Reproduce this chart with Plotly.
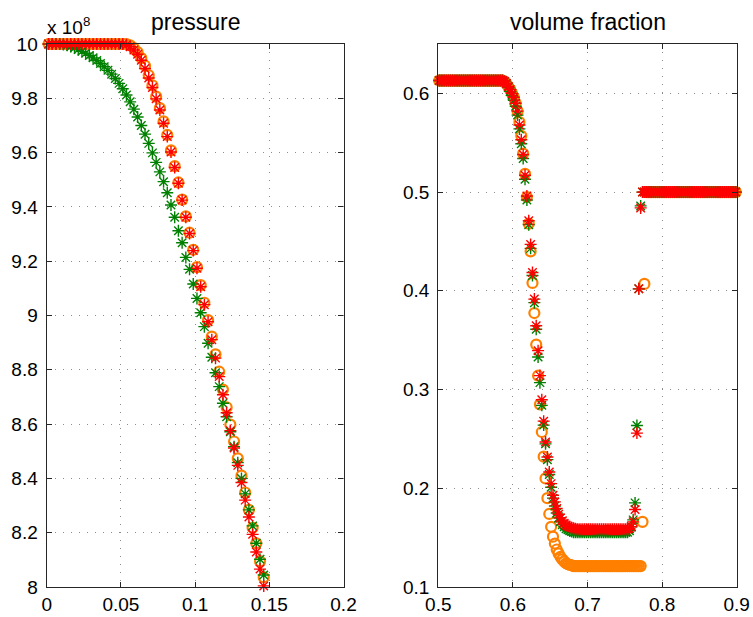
import plotly.graph_objects as go

# ---------------- data ----------------
# cell-centre mesh (400 cells on [0,1]) : x_i = 0.00125 + 0.0025*i
left_idx = list(range(0, 59))
right_idx = list(range(200, 360))

# pressure (units of 1e8)
p_green = [10.0, 10.0, 10.0, 10.0, 9.998, 9.995, 9.991, 9.986, 9.98, 9.973,
           9.966, 9.958, 9.949, 9.939, 9.928, 9.916, 9.903, 9.889, 9.873, 9.855,
           9.835, 9.812, 9.787, 9.76, 9.731, 9.7, 9.668, 9.634, 9.599, 9.564,
           9.529, 9.493, 9.452, 9.407, 9.362, 9.312, 9.268, 9.214, 9.170, 9.116,
           9.063, 9.010, 8.959, 8.898, 8.846, 8.789, 8.738, 8.677, 8.627, 8.572,
           8.517, 8.458, 8.400, 8.343, 8.284, 8.225, 8.161, 8.102, 8.044]
p_red = [10.0, 10.0, 10.0, 10.0, 10.0, 10.0, 10.0, 10.0, 10.0, 10.0,
         10.0, 10.0, 10.0, 10.0, 10.0, 10.0, 10.0, 10.0, 10.0, 10.0,
         10.0, 9.997, 9.99, 9.978, 9.962, 9.94, 9.91, 9.875, 9.84, 9.798,
         9.757, 9.708, 9.659, 9.602, 9.545, 9.487, 9.425, 9.362, 9.302, 9.239,
         9.174, 9.106, 9.04, 8.977, 8.911, 8.843, 8.775, 8.708, 8.642, 8.576,
         8.512, 8.448, 8.385, 8.320, 8.258, 8.194, 8.129, 8.066, 8.004]
p_orange = [10.0, 10.0, 10.0, 10.0, 10.0, 10.0, 10.0, 10.0, 10.0, 10.0,
            10.0, 10.0, 10.0, 10.0, 10.0, 10.0, 10.0, 10.0, 10.0, 10.0,
            10.0, 10.0, 9.995, 9.985, 9.97, 9.948, 9.92, 9.885, 9.848, 9.806,
            9.764, 9.715, 9.665, 9.608, 9.55, 9.49, 9.427, 9.365, 9.305, 9.242,
            9.178, 9.112, 9.047, 8.983, 8.922, 8.857, 8.793, 8.727, 8.662, 8.598,
            8.536, 8.474, 8.41, 8.348, 8.284, 8.218, 8.161, 8.095, 8.036]

# volume fraction, cells 200..359
vf_green = [0.613, 0.613, 0.613, 0.613, 0.613, 0.613, 0.613, 0.613, 0.613, 0.613,
            0.613, 0.613, 0.613, 0.613, 0.613, 0.613, 0.613, 0.613, 0.613, 0.613,
            0.613, 0.613, 0.613, 0.613, 0.613, 0.613, 0.613, 0.613, 0.613, 0.613,
            0.613, 0.613, 0.613, 0.613, 0.613, 0.612, 0.610, 0.606, 0.602, 0.598,
            0.593, 0.587, 0.578, 0.564, 0.549, 0.534, 0.513, 0.492, 0.467, 0.443,
            0.4155, 0.388, 0.361, 0.333, 0.307, 0.284, 0.264, 0.245, 0.229, 0.214,
            0.201, 0.190, 0.182, 0.175, 0.170, 0.166, 0.163, 0.161, 0.159, 0.158,
            0.157, 0.1562, 0.1555, 0.1555, 0.1555, 0.1555, 0.1555, 0.1555, 0.1555, 0.1555,
            0.1555, 0.1555, 0.1555, 0.1555, 0.1555, 0.1555, 0.1555, 0.1555, 0.1555, 0.1555,
            0.1555, 0.1555, 0.1555, 0.1555, 0.1555, 0.1555, 0.1555, 0.1555, 0.1555, 0.1555,
            0.1555, 0.1555, 0.157, 0.161, 0.168, 0.1852, 0.2636, 0.402, 0.486, 0.5,
            0.5, 0.5, 0.5, 0.5, 0.5, 0.5, 0.5, 0.5, 0.5, 0.5,
            0.5, 0.5, 0.5, 0.5, 0.5, 0.5, 0.5, 0.5, 0.5, 0.5,
            0.5, 0.5, 0.5, 0.5, 0.5, 0.5, 0.5, 0.5, 0.5, 0.5,
            0.5, 0.5, 0.5, 0.5, 0.5, 0.5, 0.5, 0.5, 0.5, 0.5,
            0.5, 0.5, 0.5, 0.5, 0.5, 0.5, 0.5, 0.5, 0.5, 0.5]
vf_red = [0.613, 0.613, 0.613, 0.613, 0.613, 0.613, 0.613, 0.613, 0.613, 0.613,
          0.613, 0.613, 0.613, 0.613, 0.613, 0.613, 0.613, 0.613, 0.613, 0.613,
          0.613, 0.613, 0.613, 0.613, 0.613, 0.613, 0.613, 0.613, 0.613, 0.613,
          0.613, 0.613, 0.613, 0.613, 0.613, 0.612, 0.610, 0.607, 0.604, 0.600,
          0.596, 0.590, 0.582, 0.568, 0.553, 0.538, 0.517, 0.496, 0.471, 0.447,
          0.4185, 0.3916, 0.3646, 0.3394, 0.3141, 0.2896, 0.2680, 0.2468, 0.2316, 0.2165,
          0.2047, 0.1929, 0.1862, 0.1795, 0.1737, 0.170, 0.167, 0.1645, 0.1628, 0.1615,
          0.1605, 0.160, 0.1595, 0.159, 0.1585, 0.1585, 0.1585, 0.1585, 0.1585, 0.1585,
          0.1585, 0.1585, 0.1585, 0.1585, 0.1585, 0.1585, 0.1585, 0.1585, 0.1585, 0.1585,
          0.1585, 0.1585, 0.1585, 0.1585, 0.1585, 0.1585, 0.1585, 0.1585, 0.1585, 0.1585,
          0.1585, 0.1585, 0.159, 0.161, 0.166, 0.1785, 0.2559, 0.402, 0.484, 0.5,
          0.5, 0.5, 0.5, 0.5, 0.5, 0.5, 0.5, 0.5, 0.5, 0.5,
          0.5, 0.5, 0.5, 0.5, 0.5, 0.5, 0.5, 0.5, 0.5, 0.5,
          0.5, 0.5, 0.5, 0.5, 0.5, 0.5, 0.5, 0.5, 0.5, 0.5,
          0.5, 0.5, 0.5, 0.5, 0.5, 0.5, 0.5, 0.5, 0.5, 0.5,
          0.5, 0.5, 0.5, 0.5, 0.5, 0.5, 0.5, 0.5, 0.5, 0.5]
vf_orange = [0.613, 0.613, 0.613, 0.613, 0.613, 0.613, 0.613, 0.613, 0.613, 0.613,
             0.613, 0.613, 0.613, 0.613, 0.613, 0.613, 0.613, 0.613, 0.613, 0.613,
             0.613, 0.613, 0.613, 0.613, 0.613, 0.613, 0.613, 0.613, 0.613, 0.613,
             0.613, 0.613, 0.613, 0.613, 0.613, 0.612, 0.610, 0.607, 0.604, 0.600,
             0.596, 0.590, 0.582, 0.571, 0.557, 0.539, 0.5185, 0.495, 0.468, 0.440,
             0.408, 0.3775, 0.3455, 0.314, 0.285, 0.257, 0.232, 0.210, 0.190, 0.174,
             0.161, 0.151, 0.144, 0.138, 0.134, 0.1305, 0.128, 0.126, 0.124, 0.123,
             0.1225, 0.122, 0.1212, 0.1212, 0.1212, 0.1212, 0.1212, 0.1212, 0.1212, 0.1212,
             0.1212, 0.1212, 0.1212, 0.1212, 0.1212, 0.1212, 0.1212, 0.1212, 0.1212, 0.1212,
             0.1212, 0.1212, 0.1212, 0.1212, 0.1212, 0.1212, 0.1212, 0.1212, 0.1212, 0.1212,
             0.1212, 0.1212, 0.1212, 0.1212, 0.1212, 0.1212, 0.1212, 0.1212, 0.1212, 0.166,
             0.407, 0.5, 0.5, 0.5, 0.5, 0.5, 0.5, 0.5, 0.5, 0.5,
             0.5, 0.5, 0.5, 0.5, 0.5, 0.5, 0.5, 0.5, 0.5, 0.5,
             0.5, 0.5, 0.5, 0.5, 0.5, 0.5, 0.5, 0.5, 0.5, 0.5,
             0.5, 0.5, 0.5, 0.5, 0.5, 0.5, 0.5, 0.5, 0.5, 0.5,
             0.5, 0.5, 0.5, 0.5, 0.5, 0.5, 0.5, 0.5, 0.5, 0.5]

left_xticks = [0, 0.05, 0.1, 0.15, 0.2]
left_xticktext = ["0", "0.05", "0.1", "0.15", "0.2"]
left_yticks = [8, 8.2, 8.4, 8.6, 8.8, 9, 9.2, 9.4, 9.6, 9.8, 10]
left_yticktext = ["8", "8.2", "8.4", "8.6", "8.8", "9", "9.2", "9.4", "9.6", "9.8", "10"]
right_xticks = [0.5, 0.6, 0.7, 0.8, 0.9]
right_xticktext = ["0.5", "0.6", "0.7", "0.8", "0.9"]
right_yticks = [0.1, 0.2, 0.3, 0.4, 0.5, 0.6]
right_yticktext = ["0.1", "0.2", "0.3", "0.4", "0.5", "0.6"]

x_left = [round(0.00125 + 0.0025 * i, 5) for i in left_idx]
x_right = [round(0.00125 + 0.0025 * i, 5) for i in right_idx]

GREEN = "#008000"
RED = "#ff0000"
ORANGE = "#ff8000"

fig = go.Figure()

def add(x, y, kind, color, xa, ya):
    if kind == "o":
        marker = dict(symbol="circle-open", size=10, color=color, line=dict(width=2.2, color=color))
    else:
        marker = dict(symbol="asterisk-open", size=10, color=color, line=dict(width=1.4, color=color))
    fig.add_trace(go.Scatter(x=x, y=y, mode="markers", marker=marker, cliponaxis=False,
                             xaxis=xa, yaxis=ya, showlegend=False, hoverinfo="skip"))

add(x_left, p_orange, "o", ORANGE, "x", "y")
add(x_left, p_green, "*", GREEN, "x", "y")
add(x_left, p_red, "*", RED, "x", "y")
add(x_right, vf_orange, "o", ORANGE, "x2", "y2")
add(x_right, vf_green, "*", GREEN, "x2", "y2")
add(x_right, vf_red, "*", RED, "x2", "y2")

FONT = "Liberation Sans, Arial, Helvetica, sans-serif"
W, H = 753, 617

axis_common = dict(showline=True, linecolor="#262626", linewidth=1.3, mirror="ticks",
                   ticks="inside", ticklen=5, tickcolor="#262626", tickwidth=1,
                   showgrid=True, gridcolor="#8c8c8c", gridwidth=1, griddash="1px,7px",
                   zeroline=False, automargin=False,
                   tickfont=dict(family=FONT, size=19, color="black"))

fig.update_layout(
    width=W, height=H, margin=dict(l=0, r=0, t=0, b=0, pad=0, autoexpand=False),
    paper_bgcolor="white", plot_bgcolor="white",
    xaxis=dict(domain=[46.7 / W, 343.5 / W], range=[0, 0.2], anchor="y",
               tickvals=left_xticks, ticktext=left_xticktext, ticklabelstandoff=0,
               **axis_common),
    yaxis=dict(domain=[(H - 587) / H, (H - 44) / H], range=[8, 10], anchor="x",
               tickvals=left_yticks, ticktext=left_yticktext, ticklabelstandoff=4,
               **axis_common),
    xaxis2=dict(domain=[438.3 / W, 736.7 / W], range=[0.5, 0.9], anchor="y2",
                tickvals=right_xticks, ticktext=right_xticktext, ticklabelstandoff=0,
                **axis_common),
    yaxis2=dict(domain=[(H - 587) / H, (H - 44) / H], range=[0.1, 0.65], anchor="x2",
                tickvals=right_yticks, ticktext=right_yticktext, ticklabelstandoff=4,
                **axis_common),
    annotations=[
        dict(text="pressure", x=195 / W, y=1 - 22 / H, xref="paper", yref="paper",
             showarrow=False, xanchor="center", yanchor="middle",
             font=dict(family=FONT, size=23, color="black")),
        dict(text="volume fraction", x=587.5 / W, y=1 - 22 / H, xref="paper", yref="paper",
             showarrow=False, xanchor="center", yanchor="middle",
             font=dict(family=FONT, size=23, color="black")),
        dict(text="x 10<sup>8</sup>", x=45 / W, y=1 - 40 / H, xref="paper", yref="paper",
             showarrow=False, xanchor="left", yanchor="bottom",
             font=dict(family=FONT, size=19, color="black")),
    ],
)

fig.write_html(
    "out.html",
    post_script="document.documentElement.style.margin='0';document.body.style.margin='0';document.body.style.padding='0';",
)
